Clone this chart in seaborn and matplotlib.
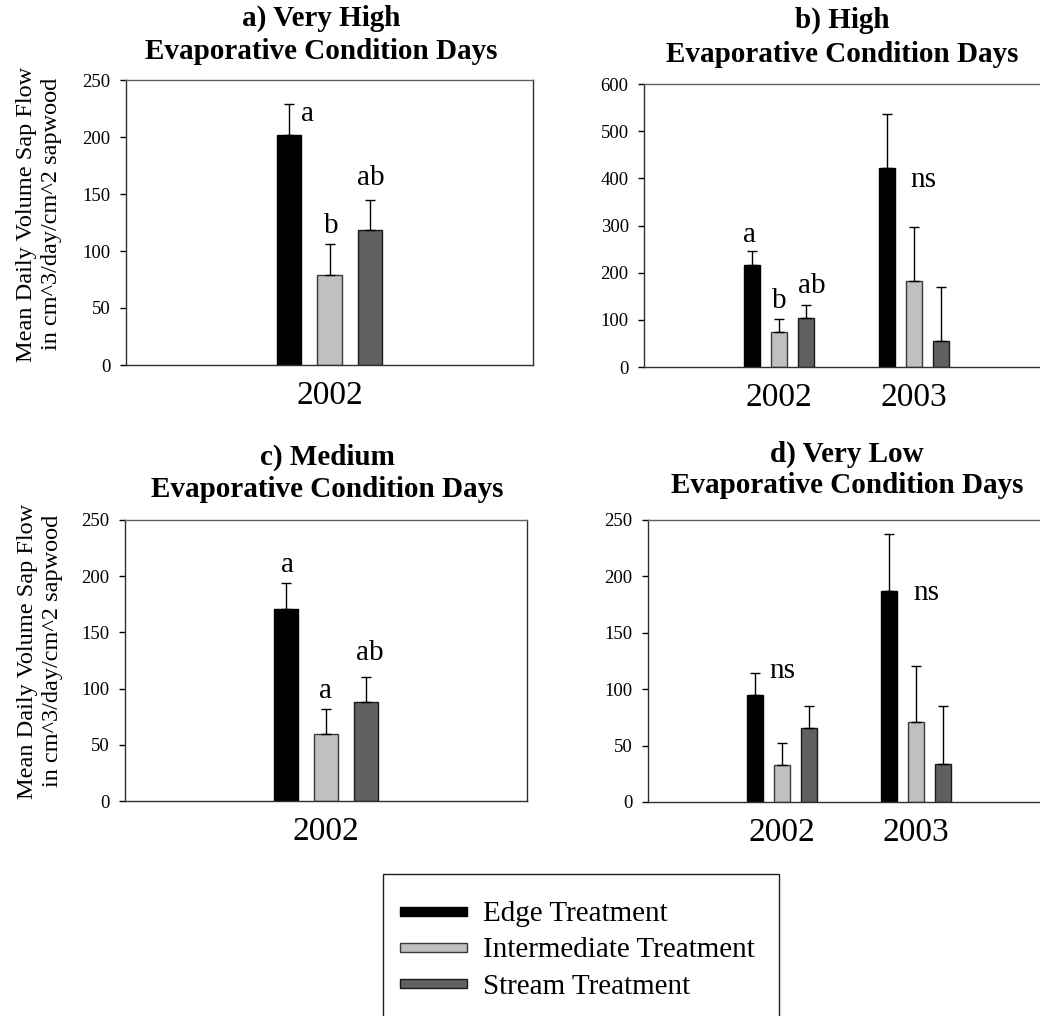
import numpy as np
import pandas as pd
import matplotlib
matplotlib.use("Agg")
import matplotlib.pyplot as plt
from matplotlib.patches import Rectangle
from matplotlib.container import BarContainer
from matplotlib.legend_handler import HandlerPatch
import seaborn as sns

# ---------------------------------------------------------------- data
treatments = ["Edge Treatment", "Intermediate Treatment", "Stream Treatment"]

# a) very high evaporative condition days
a_years = ["2002"]
a_mean = [[202, 79, 118]]
a_se = [[27, 27, 27]]
a_letters = [["a", "b", "ab"]]

# b) high evaporative condition days
b_years = ["2002", "2003"]
b_mean = [[216, 74, 103], [422, 182, 55]]
b_se = [[29, 28, 29], [115, 115, 115]]
b_letters = [["a", "b", "ab"], ["ns", "", ""]]

# c) medium evaporative condition days
c_years = ["2002"]
c_mean = [[171, 60, 88]]
c_se = [[23, 22, 22]]
c_letters = [["a", "a", "ab"]]

# d) very low evaporative condition days
d_years = ["2002", "2003"]
d_mean = [[95, 33, 66], [187, 71, 34]]
d_se = [[19, 19, 19], [51, 50, 51]]
d_letters = [["ns", "", ""], ["ns", "", ""]]

titles = [
    ("a) Very High", "Evaporative Condition Days"),
    ("b) High", "Evaporative Condition Days"),
    ("c) Medium", "Evaporative Condition Days"),
    ("d) Very Low", "Evaporative Condition Days"),
]
ylabel = "Mean Daily Volume Sap Flow\nin cm^3/day/cm^2 sapwood"

# ---------------------------------------------------------------- style
sns.set_style("white")
plt.rcParams["font.family"] = ["Liberation Serif", "DejaVu Serif"]
plt.rcParams["axes.linewidth"] = 1.0
plt.rcParams["text.color"] = "black"
plt.rcParams["xtick.color"] = "black"
plt.rcParams["ytick.color"] = "black"
plt.rcParams["xtick.labelcolor"] = "black"
plt.rcParams["ytick.labelcolor"] = "black"

palette = {"Edge Treatment": "#000000",
           "Intermediate Treatment": "#c0c0c0",
           "Stream Treatment": "#606060"}
edge_colors = ["#000000", "#3a3a3a", "#1a1a1a"]

W, H = 1040, 1016
fig = plt.figure(figsize=(W / 100, H / 100), dpi=100)


def fx(x):
    return x / W


def fy(y):
    return 1 - y / H


def add_axes_px(x0, y0, x1, y1):
    return fig.add_axes([fx(x0), fy(y1), (x1 - x0) / W, (y1 - y0) / H])


def long_frame(years, mean, se):
    rows = []
    for yi, yr in enumerate(years):
        for ti, tr in enumerate(treatments):
            rows.append({"year": yr, "treatment": tr,
                         "flow": mean[yi][ti], "se": se[yi][ti]})
    return pd.DataFrame(rows)


def panel(box, years, mean, se, letters, ymax, ystep, xlim,
          letter_pos, legend=False):
    ax = add_axes_px(*box)
    df = long_frame(years, mean, se)
    sns.barplot(data=df, x="year", y="flow", hue="treatment",
                hue_order=treatments, order=years, palette=palette,
                width=0.6, gap=0.4, errorbar=None, saturation=1,
                edgecolor="black", linewidth=1.0, legend=legend, ax=ax)

    # one-sided (upper) standard error bars on every bar
    bars = [c for c in ax.containers if isinstance(c, BarContainer)]
    for k, cont in enumerate(bars):
        for p in cont.patches:
            p.set_edgecolor(edge_colors[k])
            xc = p.get_x() + p.get_width() / 2
            cat = int(round(xc))
            err = df[(df.year == years[cat]) &
                     (df.treatment == treatments[k])]["se"].iloc[0]
            ax.errorbar([xc], [p.get_height()], yerr=[[0], [err]],
                        fmt="none", ecolor="black", elinewidth=1.0,
                        capsize=3.6, capthick=1.0, zorder=3)

    # significance letters
    for yi in range(len(years)):
        for ti in range(3):
            s = letters[yi][ti]
            if s:
                dx, yv = letter_pos[(yi, ti)]
                ax.text(yi + dx, yv, s, ha="center", va="baseline",
                        fontsize=21, color="black")

    ax.set_xlim(*xlim)
    ax.set_ylim(0, ymax)
    ax.set_yticks(np.arange(0, ymax + 1, ystep))
    ax.tick_params(axis="y", direction="out", length=4, width=1,
                   pad=7, labelsize=13.5, left=True, colors="black")
    ax.tick_params(axis="x", length=0, pad=11, labelsize=24,
                   colors="black")
    ax.set_xlabel("")
    ax.set_ylabel("")
    for sp in ax.spines.values():
        sp.set_visible(True)
        sp.set_color("#303030")
        sp.set_linewidth(1.0)
    ax.spines["top"].set_color("#606060")
    return ax


ax_a = panel((126, 80, 533, 365), a_years, a_mean, a_se, a_letters,
             250, 50, (-1, 1),
             {(0, 0): (-0.106, 214), (0, 1): (0.007, 116),
              (0, 2): (0.205, 158)}, legend=True)
ax_b = panel((644, 84, 1184, 367), b_years, b_mean, b_se, b_letters,
             600, 100, (-1, 3),
             {(0, 0): (-0.215, 265), (0, 1): (0.0, 125),
              (0, 2): (0.244, 157), (1, 0): (0.067, 382)})
ax_c = panel((125, 520, 527, 801), c_years, c_mean, c_se, c_letters,
             250, 50, (-1, 1),
             {(0, 0): (-0.194, 204), (0, 1): (0.0, 92),
              (0, 2): (0.219, 125)})
ax_d = panel((648, 520, 1184, 802), d_years, d_mean, d_se, d_letters,
             250, 50, (-1, 3),
             {(0, 0): (0.0, 110), (1, 0): (0.075, 179)})

# panel titles (two bold lines each)
title_px = [(321, 26, 59), (842, 28, 62), (327, 465, 497), (847, 462, 493)]
for (l1, l2), (x, y1, y2) in zip(titles, title_px):
    fig.text(fx(x), fy(y1), l1, ha="center", va="baseline",
             fontsize=21, fontweight="bold")
    fig.text(fx(x), fy(y2), l2, ha="center", va="baseline",
             fontsize=21, fontweight="bold")

# y-axis labels of the left column
for (x, y) in [(39, 214), (40, 651)]:
    fig.text(fx(x), fy(y), ylabel, rotation=90, ha="center", va="center",
             multialignment="center", fontsize=17.5, linespacing=1.2)

# shared legend below the panels
leg0 = ax_a.get_legend()
handles = list(leg0.legend_handles)
labels = [t.get_text() for t in leg0.get_texts()]
leg0.remove()
for h_, c_, e_ in zip(handles, palette.values(), edge_colors):
    h_.set_facecolor(c_)
    h_.set_edgecolor(e_)
    h_.set_linewidth(1.0)


def thin_bar(legend, orig_handle, xdescent, ydescent, width, height,
             fontsize):
    hh = 6.5
    return Rectangle((-xdescent, -ydescent + (height - hh) / 2), width, hh)


fig.legend(handles, labels, loc="upper left",
           bbox_to_anchor=(fx(400), fy(901)), frameon=False,
           fontsize=21, handlelength=2.3, handletextpad=0.55,
           labelspacing=0.33, borderpad=0, borderaxespad=0,
           handler_map={h_: HandlerPatch(patch_func=thin_bar)
                        for h_ in handles})
fig.add_artist(Rectangle((fx(383), fy(1030)), (779 - 383) / W,
                         (1030 - 874) / H, transform=fig.transFigure,
                         fill=False, edgecolor="#202020", linewidth=1.0))

fig.savefig("out.png", dpi=100, facecolor="white")
